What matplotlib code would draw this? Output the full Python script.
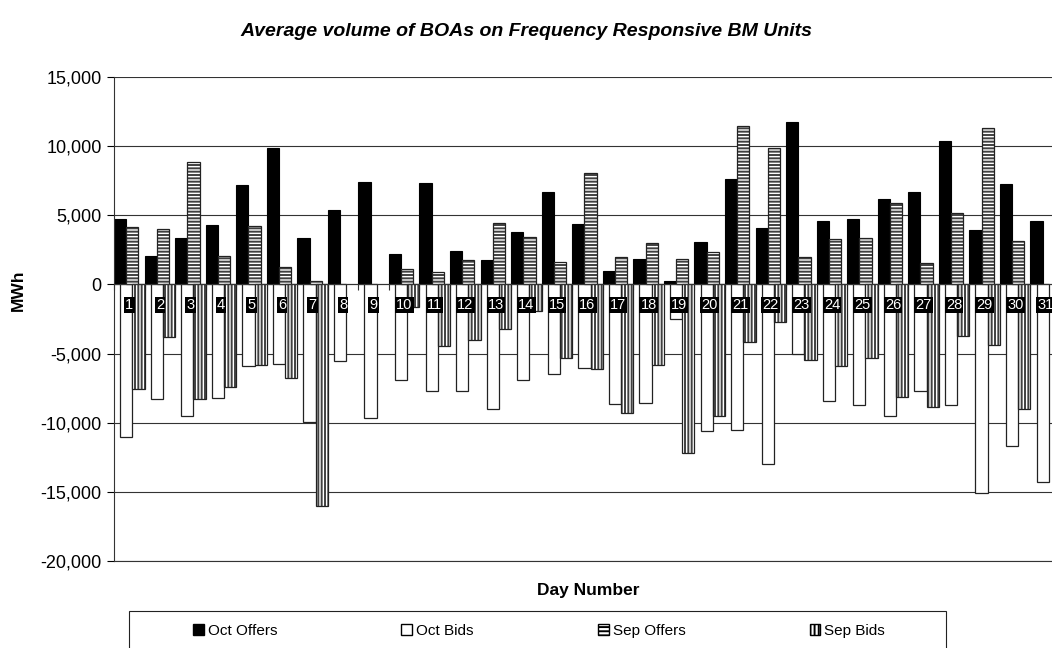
import matplotlib.pyplot as plt
import numpy as np
from matplotlib.patches import Patch, Rectangle
from matplotlib.ticker import FuncFormatter

plt.rcParams['font.family'] = ['Liberation Sans', 'DejaVu Sans']
plt.rcParams['hatch.linewidth'] = 1.4

nan = np.nan
days = np.arange(1, 32)
oct_offers = [4700, 2070, 3370, 4310, 7210, 9830, 3370, 5400, 7400, 2220, 7340,
              2390, 1740, 3760, 6700, 4390, 940, 1810, 240, 3060, 7640, 4100,
              11760, 4580, 4750, 6190, 6720, 10360, 3930, 7280, 4580]
oct_bids = [-11010, -8290, -9540, -8240, -5900, -5780, -9980, -5540, -9660, -6890,
            -7740, -7690, -9010, -6890, -6480, -6050, -8680, -8560, -2480, -10600,
            -10510, -12990, -5060, -8410, -8720, -9520, -7710, -8700, -15110,
            -11710, -14290]
sep_offers = [4170, 3980, 8870, 2070, 4190, 1250, 265, nan, nan, 1110, 920, 1740,
              4410, 3400, 1610, 8070, 1980, 2990, 1860, 2360, 11470, 9830, 1980,
              3250, 3330, 5860, 1520, 5130, 11280, 3130, nan]
sep_bids = [-7590, -3810, -8270, -7420, -5830, -6800, -16050, nan, nan, -1660,
            -4480, -4050, -3250, -1950, -5300, -6100, -9280, -5830, -12190, -9500,
            -4150, -2750, -5450, -5930, -5350, -8170, -8890, -3740, -4410, -9010, nan]

W, H = 1052, 648
fig = plt.figure(figsize=(W / 100, H / 100), dpi=100)
ax = fig.add_axes([114 / W, 1 - 561 / H, 947 / W, 484 / H])

bw = 0.4
ax.bar(days - 0.3, oct_offers, bw, color='black', edgecolor='black', linewidth=0.8)
ax.bar(days - 0.1, oct_bids, bw, color='white', edgecolor='#222222', linewidth=0.9)
# hatched series: grey stripes first, black outline on top
ax.bar(days + 0.1, sep_offers, bw, color='white', edgecolor='#404040', hatch='-----', linewidth=0)
ax.bar(days + 0.1, sep_offers, bw, fill=False, edgecolor='#222222', linewidth=0.9)
ax.bar(days + 0.3, sep_bids, bw, color='white', edgecolor='#404040', hatch='|||||', linewidth=0)
ax.bar(days + 0.3, sep_bids, bw, fill=False, edgecolor='#222222', linewidth=0.9)

ax.set_xlim(0.5, 31.5)
ax.set_ylim(-20000, 15000)
ax.set_yticks(np.arange(-20000, 15001, 5000))
ax.yaxis.set_major_formatter(FuncFormatter(lambda v, p: f'{v:,.0f}'))
ax.yaxis.grid(True, color='#333333', linewidth=0.8)
ax.axhline(-20000, color='#333333', linewidth=0.8, clip_on=False, zorder=0)
ax.set_axisbelow(True)
ax.tick_params(axis='y', direction='out', length=5, width=0.8, labelsize=13, pad=4)

ax.spines['top'].set_visible(False)
ax.spines['right'].set_visible(False)
ax.spines['left'].set_color('#333333')
ax.spines['bottom'].set_position(('data', 0))
ax.spines['bottom'].set_color('#333333')
ax.set_xticks(days)
ax.set_xticklabels([])
ax.tick_params(axis='x', which='major', length=0)
ax.set_xticks(np.arange(0.5, 32, 1), minor=True)
ax.tick_params(axis='x', which='minor', direction='out', length=4, width=0.8, color='#333333')

for d in days:
    ax.annotate(str(d), (d, 0), xytext=(0, -15), textcoords='offset points',
                ha='center', va='center', fontsize=10.5, color='white', zorder=6,
                bbox=dict(boxstyle='square,pad=0.08', fc='black', ec='none'))

fig.text(526 / W, 1 - 31 / H, 'Average volume of BOAs on Frequency Responsive BM Units',
         ha='center', va='center', fontsize=14, fontweight='bold', fontstyle='italic')
fig.text(18 / W, 1 - 290 / H, 'MWh', rotation=90, ha='center', va='center',
         fontsize=12.5, fontweight='bold')
fig.text(588 / W, 1 - 591 / H, 'Day Number', ha='center', va='center',
         fontsize=12.5, fontweight='bold')

handles = [Patch(facecolor='black', edgecolor='black'),
           Patch(facecolor='white', edgecolor='black'),
           Patch(facecolor='white', edgecolor='black', hatch='----'),
           Patch(facecolor='white', edgecolor='black', hatch='||||')]
labels = ['Oct Offers', 'Oct Bids', 'Sep Offers', 'Sep Bids']
fig.legend(handles, labels, loc='center', ncol=4, mode='expand', frameon=False,
           bbox_to_anchor=(193 / W, 1 - 640 / H, 692 / W, 18 / H),
           borderaxespad=0, borderpad=0, handlelength=0.7, handleheight=0.7,
           handletextpad=0.25, fontsize=11)
fig.add_artist(Rectangle((129 / W, -0.02), 817 / W, (648 - 611) / H + 0.02,
                         transform=fig.transFigure, fill=False,
                         edgecolor='#222222', linewidth=0.8))

fig.savefig('out.png', dpi=100)
